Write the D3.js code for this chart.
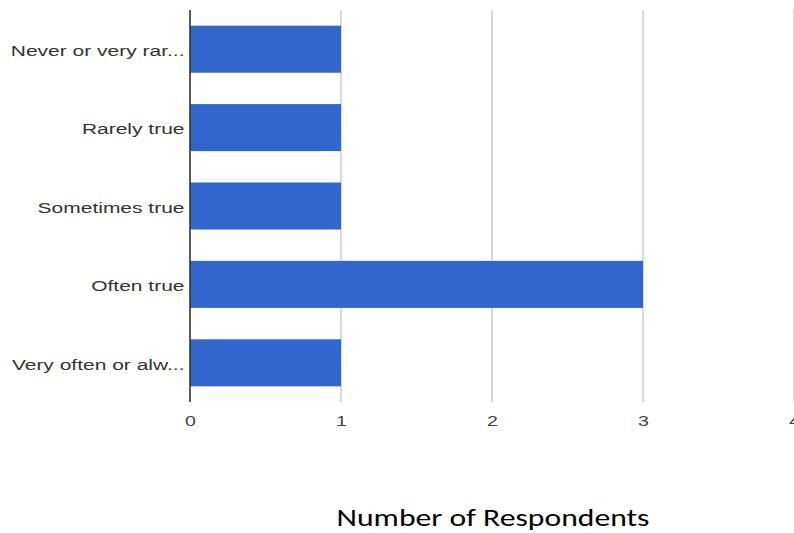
<!DOCTYPE html>
<html>
<head>
<meta charset="utf-8">
<script src="https://cdn.jsdelivr.net/npm/d3@7"></script>
<style>
  html, body { margin: 0; padding: 0; background: #fff; }
  svg { display: block; }
</style>
</head>
<body>
<svg id="chart" width="794" height="533"></svg>
<script>
// Survey answers and how many respondents chose each
const categories = [
  "Never or very rar...",
  "Rarely true",
  "Sometimes true",
  "Often true",
  "Very often or alw..."
];
const counts = [1, 1, 1, 3, 1];
const xTicks = [0, 1, 2, 3, 4];
const axisTitle = "Number of Respondents";

const svg = d3.select("#chart");
const plot = { left: 190, right: 794, top: 10, bottom: 402 };
const stretch = 1.4; // horizontal widening of the label type

const x = d3.scaleLinear().domain([0, 4]).range([plot.left, plot.right]);
const y = d3.scaleBand().domain(categories).range([plot.top, plot.bottom])
  .paddingInner(0.4).paddingOuter(0.2);

// vertical gridlines
svg.append("g").selectAll("line").data(xTicks.filter(t => t > 0)).join("line")
  .attr("x1", d => x(d)).attr("x2", d => x(d))
  .attr("y1", plot.top).attr("y2", plot.bottom)
  .attr("stroke", "#d0d0d0").attr("stroke-width", 1.6);

// bars
svg.append("g").selectAll("rect").data(counts).join("rect")
  .attr("x", x(0))
  .attr("y", (d, i) => y(categories[i]))
  .attr("width", d => x(d) - x(0))
  .attr("height", y.bandwidth())
  .attr("fill", "#3366cc");

// baseline at zero
svg.append("line")
  .attr("x1", x(0)).attr("x2", x(0))
  .attr("y1", plot.top).attr("y2", plot.bottom)
  .attr("stroke", "#333333").attr("stroke-width", 1.6);

// x axis tick labels
const xAxis = d3.axisBottom(x).tickValues(xTicks).tickSize(0).tickPadding(14)
  .tickFormat(d3.format("d"));
const gx = svg.append("g").attr("transform", `translate(0,${plot.bottom})`).call(xAxis);
gx.select(".domain").remove();
gx.selectAll("text")
  .attr("font-family", "'Liberation Sans', Arial, sans-serif")
  .attr("font-size", 14).attr("fill", "#444444")
  .attr("transform", `scale(${stretch},1)`);

// y axis category labels
const yAxis = d3.axisLeft(y).tickSize(0).tickPadding(0);
const gy = svg.append("g").attr("transform", `translate(${plot.left},0)`).call(yAxis);
gy.select(".domain").remove();
gy.selectAll("text")
  .attr("x", -5.5 / stretch)
  .attr("dy", "0.45em")
  .attr("font-family", "'Liberation Sans', Arial, sans-serif")
  .attr("font-size", 15).attr("fill", "#333333")
  .attr("transform", `scale(${stretch},1)`);

// axis title
svg.append("text")
  .attr("transform", `translate(493,526) scale(1.32,1)`)
  .attr("text-anchor", "middle")
  .attr("font-family", "Carlito, Lato, 'Open Sans', sans-serif")
  .attr("font-size", 24).attr("fill", "#000")
  .text(axisTitle);
</script>
</body>
</html>
